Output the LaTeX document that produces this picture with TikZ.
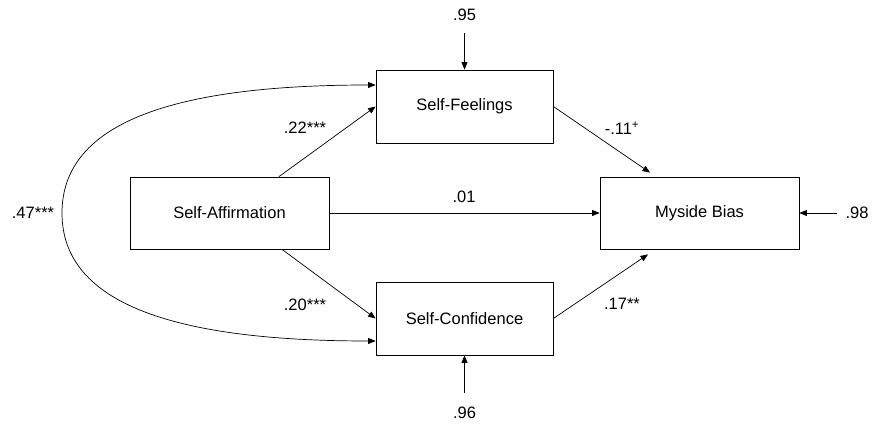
\documentclass[tikz,border=0pt]{standalone}
\usepackage{fontspec}
\setmainfont{Liberation Sans}
\usetikzlibrary{arrows.meta}
\begin{document}
\begin{tikzpicture}[x=1pt,y=-1pt,
  box/.style={draw,line width=0.8pt,inner sep=0pt,font=\fontsize{16.5}{18}\selectfont},
  lab/.style={inner sep=0pt,font=\fontsize{16.5}{18}\selectfont},
  arr/.style={line width=0.7pt,-{Triangle[length=7.5pt,width=6pt]}},
  darr/.style={line width=0.7pt,{Triangle[length=7.5pt,width=6pt]}-{Triangle[length=7.5pt,width=6pt]}}]
\useasboundingbox (0,0) rectangle (873,427);
\node[box,minimum width=177pt,minimum height=73pt] (sf) at (464.5,106.5) {Self-Feelings};
\node[box,minimum width=199pt,minimum height=72pt] (sa) at (229.5,213) {Self-Affirmation};
\node[box,minimum width=199pt,minimum height=72pt] (mb) at (699.5,213) {Myside Bias};
\node[box,minimum width=177pt,minimum height=73pt] (sc) at (464.5,318.5) {Self-Confidence};
% error terms
\node[lab] (l95) at (464.5,15) {.95};
\coordinate (e1) at (464.5,33);
\node[lab] (l96) at (464.5,413) {.96};
\coordinate (e2) at (464.5,393);
\node[lab] (l98) at (857,213) {.98};
\coordinate (e3) at (837,213);
\draw[arr] (e1) -- (sf.north);
\draw[arr] (e2) -- (sc.south);
\draw[arr] (e3) -- (mb.east);
% paths
\draw[arr] ([xshift=49.5pt]sa.north) -- (sf.west);
\draw[arr] ([xshift=52.5pt]sa.south) -- (sc.west);
\draw[arr] (sa.east) -- (mb.west);
\draw[arr] (sf.east) -- ([xshift=-49.5pt,yshift=4pt]mb.north);
\draw[arr] (sc.east) -- ([xshift=-51.5pt,yshift=-5pt]mb.south);
% covariance
\coordinate (cv) at (62,213);
\draw[darr] ([yshift=21.5pt]sf.west) .. controls (180,85) and (62,120) .. (cv)
  .. controls (62,306) and (180,341) .. ([yshift=-22.5pt]sc.west);
% labels
\node[lab] (l22) at (305,128) {.22***};
\node[lab] (l20) at (305,305) {.20***};
\node[lab] (l01) at (464,197) {.01};
\node[lab] (l11) at (622,128) {-.11\textsuperscript{+}};
\node[lab] (l17) at (622,304) {.17**};
\node[lab] (l47) at (33,213) {.47***};
\end{tikzpicture}
\end{document}
